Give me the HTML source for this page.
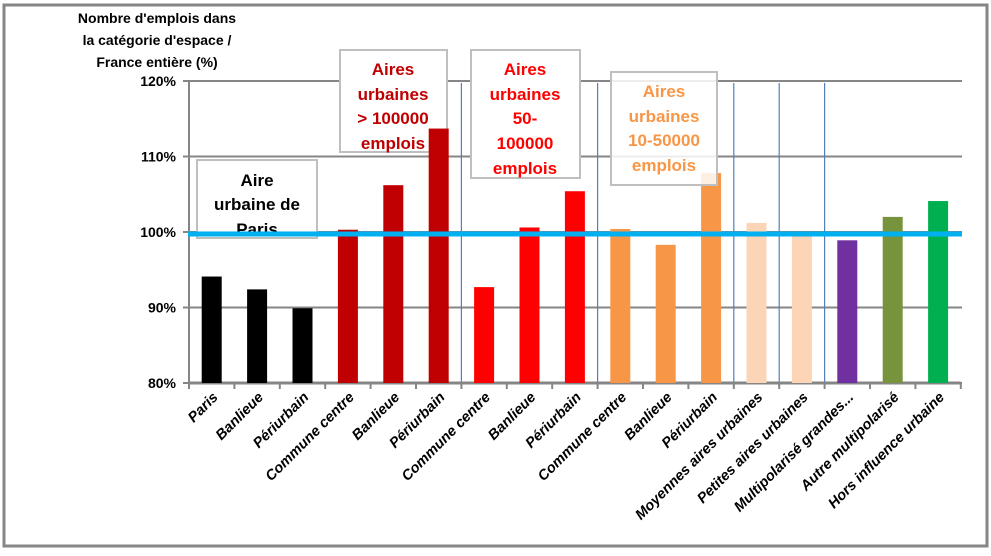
<!DOCTYPE html>
<html><head><meta charset="utf-8"><style>
body{margin:0;background:#fff}
svg text{font-family:"Liberation Sans",sans-serif;font-weight:bold}
</style></head><body>
<svg width="991" height="551">
<rect x="4" y="5" width="983" height="541" fill="#fff" stroke="#868686" stroke-width="3"/>
<g id="grid"></g>
<text font-size="14" text-anchor="middle"><tspan x="157" y="23">Nombre d'emplois dans</tspan><tspan x="157" y="45">la catégorie d'espace /</tspan><tspan x="157" y="67">France entière (%)</tspan></text>
<g><rect x="197" y="160" width="120" height="78" fill="#fff" fill-opacity="0.9" stroke="#bfbfbf" stroke-width="2"/>
<text font-size="17" text-anchor="middle" fill="#000"><tspan x="257" y="186">Aire</tspan><tspan x="257" y="210">urbaine de</tspan><tspan x="257" y="235">Paris</tspan></text></g>
<g><rect x="340" y="50" width="107" height="102" fill="#fff" stroke="#bfbfbf" stroke-width="2"/>
<text font-size="17" text-anchor="middle" fill="#c00000"><tspan x="393" y="75">Aires</tspan><tspan x="393" y="100">urbaines</tspan><tspan x="393" y="124">&gt; 100000</tspan><tspan x="393" y="149">emplois</tspan></text></g>
<g><rect x="471" y="50" width="109" height="128" fill="#fff" stroke="#bfbfbf" stroke-width="2"/>
<text font-size="17" text-anchor="middle" fill="#ff0000"><tspan x="525" y="75">Aires</tspan><tspan x="525" y="100">urbaines</tspan><tspan x="525" y="124">50-</tspan><tspan x="525" y="149">100000</tspan><tspan x="525" y="174">emplois</tspan></text></g>
<g id="bars"></g>
<g><rect x="611" y="72" width="106" height="113" fill="#fff" fill-opacity="0.85" stroke="#bfbfbf" stroke-width="2"/>
<text font-size="17" text-anchor="middle" fill="#f79646"><tspan x="664" y="97">Aires</tspan><tspan x="664" y="122">urbaines</tspan><tspan x="664" y="146">10-50000</tspan><tspan x="664" y="171">emplois</tspan></text></g>
<g id="labels"></g>
<rect x="188" y="231.5" width="774" height="5" fill="#00b0f0"/>
</svg>
<script>
const categories=["Paris","Banlieue","Périurbain","Commune centre","Banlieue","Périurbain","Commune centre","Banlieue","Périurbain","Commune centre","Banlieue","Périurbain","Moyennes aires urbaines","Petites aires urbaines","Multipolarisé grandes...","Autre multipolarisé","Hors influence urbaine"];
const values=[94.1,92.4,89.9,100.3,106.2,113.7,92.7,100.6,105.4,100.4,98.3,107.8,101.2,99.5,98.9,102,104.1];
const colors=["#000","#000","#000","#c00000","#c00000","#c00000","#ff0000","#ff0000","#ff0000","#f79646","#f79646","#f79646","#fbd5b5","#fbd5b5","#7030a0","#77933c","#00b050"];
const yTicks=[80,90,100,110,120];
const separators=[6,9,12,13,14];
const NS="http://www.w3.org/2000/svg";
const L=189,STEP=45.4,Y0=383,PX=7.55;
const xc=i=>L+STEP*(i+0.5);
const y=v=>Y0-(v-80)*PX;
function mk(t,a,p){const e=document.createElementNS(NS,t);for(const k in a)e.setAttribute(k,a[k]);p.appendChild(e);return e;}
const g=document.getElementById('grid'),b=document.getElementById('bars'),lb=document.getElementById('labels');
yTicks.forEach(t=>{
 const l=mk('line',{x1:L-6,x2:962,y1:y(t),y2:y(t),stroke:'#868686','stroke-width':2},g);
 
 
 const tx=mk('text',{x:176,y:y(t)+5,'text-anchor':'end','font-size':14},g);tx.textContent=t+'%';
 
 
});
mk('line',{x1:L,x2:L,y1:y(120),y2:Y0,stroke:'#868686','stroke-width':2},g);
separators.forEach(s=>{
 const l=mk('line',{x1:L+STEP*s,x2:L+STEP*s,y1:83,y2:Y0,stroke:'#4f81bd','stroke-width':1.2},g);
 
 
});
categories.forEach((c,i)=>{
 const r=mk('rect',{x:xc(i)-10,y:y(values[i]),width:20,height:Y0-y(values[i]),fill:colors[i]},b);
 
 
 mk('line',{x1:L+STEP*i,x2:L+STEP*i,y1:Y0,y2:Y0+6,stroke:'#868686','stroke-width':2},g);
 const t=mk('text',{x:0,y:0,'text-anchor':'end','font-size':14.5,'font-style':'italic',transform:`translate(${xc(i)+7},${Y0+15}) rotate(-45)`},lb);
 t.textContent=c;
 
 
});
mk('line',{x1:L,x2:L+STEP*17,y1:Y0,y2:Y0,stroke:'#868686','stroke-width':3},g);
mk('line',{x1:L+STEP*17,x2:L+STEP*17,y1:Y0,y2:Y0+6,stroke:'#868686','stroke-width':2},g);
</script>
</body></html>
